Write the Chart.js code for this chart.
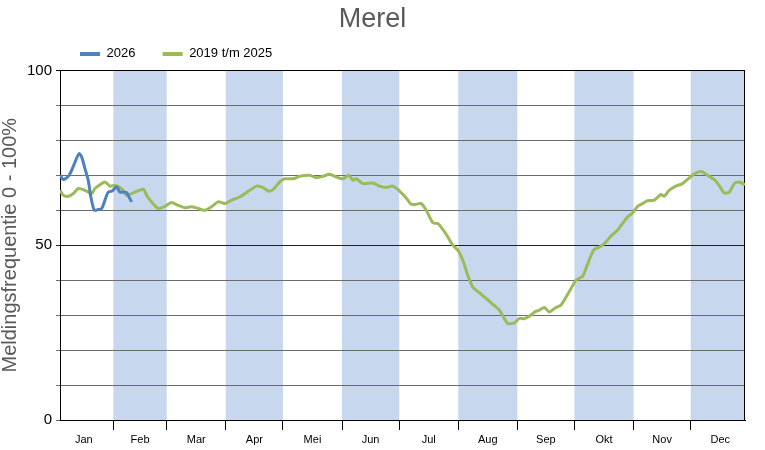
<!DOCTYPE html>
<html>
<head>
<meta charset="utf-8">
<script src="https://cdn.jsdelivr.net/npm/chart.js@4/dist/chart.umd.min.js"></script>
<style>
  html, body { margin: 0; padding: 0; background: #fff; }
  #wrap { width: 765px; height: 450px; }
</style>
</head>
<body>
<div id="wrap"><canvas id="chart"></canvas></div>
<script>
// Months (day of year where each month starts, and its middle for the label)
const monthLabels = ['Jan', 'Feb', 'Mar', 'Apr', 'Mei', 'Jun', 'Jul', 'Aug', 'Sep', 'Okt', 'Nov', 'Dec'];
const monthStarts = [0, 31, 59, 90, 120, 151, 181, 212, 243, 273, 304, 334, 365];
const monthMids = [15.5, 45, 74.5, 105, 135.5, 166, 196.5, 227.5, 258, 288.5, 319, 349.5];
const shadedMonths = [1, 3, 5, 7, 9, 11];

// 2019 t/m 2025
const avgDays = [3, 4.7, 7.4, 10, 12.6, 16.1, 19.6, 21.3, 24, 26.6, 29.2, 31.8, 35.3, 38, 42.3, 46.8, 48.4,
  51, 54.5, 58, 61.5, 65, 68.5, 72, 75.5, 79, 82.5, 86, 89.5, 93, 97.3, 102.6, 106.1, 109.6, 112.2, 114.8,
  118.3, 120.9, 125.3, 128.8, 134, 137.5, 141, 144.5, 148, 151.5, 154.6, 156.7, 158.5, 162, 167.2, 170.7,
  174.2, 177.7, 181.2, 184.7, 187.3, 190, 192.6, 195.2, 198.7, 201.3, 203.9, 206.5, 209.1, 211.8, 214.4,
  217, 219.6, 223.1, 226.6, 230.1, 233.6, 236.2, 238, 241.5, 244.1, 246.7, 250.2, 252.4, 254.6, 257.2,
  259.8, 263.3, 266, 268.6, 271.2, 273.8, 277.3, 279, 281.7, 283.4, 286.9, 289.5, 292.1, 295.6, 298.2,
  300.9, 303.5, 306.1, 308.7, 311.3, 314.8, 318.4, 320.1, 322.7, 326.2, 329.7, 332.3, 334.9, 337.5, 339.8,
  342.8, 346.3, 348.9, 351.5, 354.2, 356.8, 359.4, 362.5];
const avgValues = [65.7, 64.3, 64, 64.8, 66.2, 65.7, 64.8, 66.2, 67.3, 68.1, 66.9, 67.1, 66.2, 64.3, 65.2, 66, 64.3,
  62.4, 60.5, 61.1, 62.2, 61.4, 60.7, 61, 60.5, 60, 61, 62.4, 61.9, 62.9, 63.8, 65.7, 66.9, 66.5, 65.5, 65.9,
  68.1, 69, 69, 69.7, 70, 69.3, 69.7, 70.3, 69.5, 69, 70, 68.6, 69, 67.6, 67.8, 66.9,
  66.5, 66.9, 65.5, 63.5, 61.7, 61.7, 61.9, 60, 56.4, 56.2, 54.5, 52.4, 50, 48.6, 45.7,
  41.4, 38.1, 36.4, 34.8, 33.1, 31.4, 29, 27.6, 27.8, 29.1, 29, 30, 31, 31.4, 32.2,
  30.9, 32.2, 32.9, 35.2, 37.6, 40, 41.1, 43.3, 47.1, 48.8, 49.7, 50.9, 52.6, 54.3, 56.2,
  58.1, 59.2, 61.1, 61.9, 62.7, 62.9, 64.5, 64, 65.7, 66.9, 67.6, 68.8, 70, 70.8, 71.1,
  70, 68.8, 67.1, 65, 65.1, 67.6, 68.1, 67.3];

// 2026
const curDays = [3, 4.7, 7.4, 9.1, 10.9, 13, 14.4, 16.1, 17.8, 19.2, 21, 23.1, 24.9, 26.6, 28.3, 30.4,
  32.7, 34.4, 36.2, 38, 39.2, 40.6];
const curValues = [70, 68.8, 69.7, 71.4, 73.8, 76.2, 75.2, 71.9, 68.6, 63.8, 60, 60.2, 60.5, 62.9, 65.2, 65.5,
  66.7, 65.2, 65.2, 65, 63.8, 62.4];

const FONT = "'Liberation Sans', Arial, sans-serif";

const bandsPlugin = {
  id: 'bands',
  beforeDraw(chart) {
    const { ctx, chartArea: a, scales: { x } } = chart;
    ctx.save();
    ctx.fillStyle = '#C6D7EE';
    shadedMonths.forEach(m => {
      const x1 = Math.max(x.getPixelForValue(monthStarts[m]), a.left);
      const x2 = Math.min(x.getPixelForValue(monthStarts[m + 1]), a.right);
      ctx.fillRect(x1, a.top, x2 - x1, a.bottom - a.top);
    });
    ctx.restore();
  },
  beforeDatasetsDraw(chart) {
    const { ctx, chartArea: a } = chart;
    ctx.save();
    ctx.strokeStyle = '#000';
    ctx.lineWidth = 1;
    ctx.beginPath();
    ctx.moveTo(Math.round(a.right) - 0.5, a.top);
    ctx.lineTo(Math.round(a.right) - 0.5, a.bottom);
    ctx.stroke();
    ctx.restore();
  }
};

new Chart(document.getElementById('chart'), {
  type: 'line',
  data: {
    datasets: [
      {
        label: '2026',
        data: curDays.map((d, i) => ({ x: d, y: curValues[i] })),
        borderColor: '#4F81BD',
        backgroundColor: '#4F81BD',
        borderWidth: 3,
        pointRadius: 0,
        tension: 0.25
      },
      {
        label: '2019 t/m 2025',
        data: avgDays.map((d, i) => ({ x: d, y: avgValues[i] })),
        borderColor: '#9BBB59',
        backgroundColor: '#9BBB59',
        borderWidth: 3,
        pointRadius: 0,
        tension: 0.25
      }
    ]
  },
  options: {
    responsive: true,
    maintainAspectRatio: false,
    animation: false,
    layout: { padding: { left: 0, right: 20, top: 0, bottom: 0 } },
    plugins: {
      title: {
        display: true,
        text: 'Merel',
        color: '#595959',
        font: { family: FONT, size: 27, weight: 'normal' },
        padding: { top: 3, bottom: -8 }
      },
      legend: {
        position: 'top',
        align: 'start',
        fullSize: false,
        labels: {
          color: '#000',
          font: { family: FONT, size: 13 },
          boxWidth: 20,
          boxHeight: 4,
          padding: 20,
          generateLabels(chart) {
            return Chart.defaults.plugins.legend.labels.generateLabels(chart).map((item, i) => {
              item.lineWidth = 0;
              if (i === 0) item.text = item.text + '  ';
              return item;
            });
          }
        }
      },
      tooltip: { enabled: false }
    },
    scales: {
      x: {
        type: 'linear',
        min: 3,
        max: 362.5,
        afterFit(scale) { scale.height = 30; },
        afterBuildTicks(scale) {
          const ticks = [];
          monthStarts.slice(1, 12).forEach(v => ticks.push({ value: v }));
          monthMids.forEach(v => ticks.push({ value: v }));
          ticks.sort((a, b) => a.value - b.value);
          scale.ticks = ticks;
        },
        border: { display: true, color: '#000', width: 1 },
        grid: {
          drawOnChartArea: false,
          tickLength: 10,
          tickColor(ctx) {
            return monthStarts.includes(ctx.tick.value) ? '#000' : 'rgba(0,0,0,0)';
          }
        },
        ticks: {
          autoSkip: false,
          maxRotation: 0,
          padding: 3,
          color: '#000',
          font: { family: FONT, size: 11 },
          callback(value) {
            const i = monthMids.indexOf(value);
            return i >= 0 ? monthLabels[i] : '';
          }
        }
      },
      y: {
        min: 0,
        max: 100,
        afterFit(scale) { scale.width = 60; },
        border: { display: true, color: '#000', width: 1 },
        grid: {
          tickLength: 4,
          color(ctx) {
            const v = ctx.tick.value;
            if (v === 100) return '#000';
            if (v === 50) return '#222';
            return '#6b6b6b';
          }
        },
        ticks: {
          stepSize: 10,
          padding: 4,
          color: '#000',
          font: { family: FONT, size: 15 },
          callback(value) { return value % 50 === 0 ? value : ''; }
        },
        title: {
          display: true,
          text: 'Meldingsfrequentie 0 - 100%',
          color: '#595959',
          font: { family: FONT, size: 20, lineHeight: 1 },
          padding: { top: 0, bottom: 0 }
        }
      }
    }
  },
  plugins: [bandsPlugin]
});
</script>
</body>
</html>
